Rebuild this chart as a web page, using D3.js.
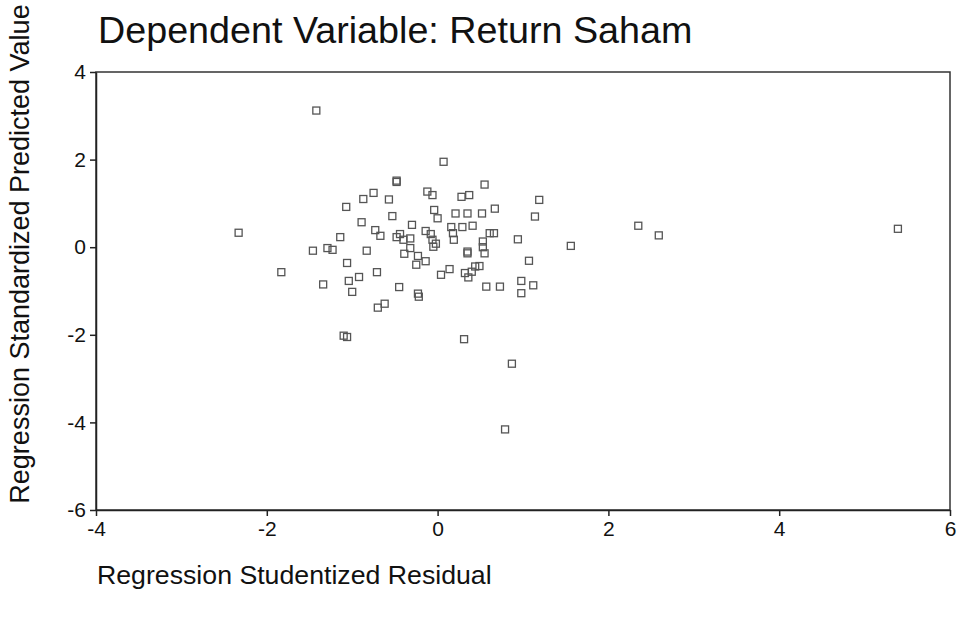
<!DOCTYPE html>
<html>
<head>
<meta charset="utf-8">
<script src="https://cdn.jsdelivr.net/npm/d3@7"></script>
<style>
  body { margin: 0; background: #fff; }
  svg { display: block; font-family: "Liberation Sans", Arial, sans-serif; }
</style>
</head>
<body>
<svg id="chart" width="958" height="617"></svg>
<script>
// Residual scatter (SPSS style)
const residuals = [
  -1.42, 0.07, -2.33, -1.83, -1.46, -1.29, -1.23, -1.34, -1.14, -1.07,
  -1.06, -1.04, -1.00, -1.10, -1.06, -0.92, -0.89, -0.87, -0.83, -0.75,
  -0.73, -0.67, -0.71, -0.70, -0.62, -0.57, -0.53, -0.48, -0.48, -0.48,
  -0.44, -0.40, -0.32, -0.32, -0.39, -0.30, -0.23, -0.14, -0.25, -0.45,
  -0.23, -0.22, -0.12, -0.06, -0.14, -0.08, -0.06, -0.05, -0.02, -0.04,
  0.00, 0.55, 0.28, 0.37, 1.19, 0.21, 0.35, 0.52, 0.67, 1.14,
  0.16, 0.29, 0.41, 0.18, 0.19, 0.61, 0.66, 0.94, 1.56, 0.35,
  0.35, 0.53, 0.53, 0.55, 0.04, 0.14, 0.32, 0.36, 0.40, 0.44,
  0.49, 1.07, 0.57, 0.73, 0.98, 0.98, 1.12, 0.31, 0.87, 0.79,
  2.35, 2.59, 5.39
];
const predicted = [
  3.12, 1.95, 0.33, -0.57, -0.08, -0.02, -0.06, -0.85, 0.23, 0.92,
  -0.36, -0.77, -1.02, -2.02, -2.05, -0.68, 0.57, 1.10, -0.08, 1.24,
  0.39, 0.26, -0.57, -1.38, -1.29, 1.09, 0.71, 1.49, 1.52, 0.23,
  0.30, 0.17, 0.20, -0.02, -0.15, 0.51, -0.20, -0.32, -0.40, -0.91,
  -1.06, -1.13, 1.27, 1.19, 0.37, 0.30, 0.17, 0.01, 0.08, 0.85,
  0.66, 1.43, 1.15, 1.19, 1.08, 0.77, 0.77, 0.77, 0.88, 0.70,
  0.46, 0.46, 0.49, 0.32, 0.17, 0.32, 0.32, 0.18, 0.03, -0.10,
  -0.14, 0.13, 0.00, -0.14, -0.63, -0.50, -0.59, -0.69, -0.56, -0.44,
  -0.43, -0.31, -0.90, -0.90, -0.77, -1.05, -0.87, -2.10, -2.66, -4.16,
  0.49, 0.27, 0.42
];
const xTicks = [-4, -2, 0, 2, 4, 6];
const yTicks = [-6, -4, -2, 0, 2, 4];

const titleText = 'Dependent Variable: Return Saham';
const xTitle = 'Regression Studentized Residual';
const yTitle = 'Regression Standardized Predicted Value';

const svg = d3.select('#chart');
const plotLeft = 96, plotRight = 950, plotTop = 72, plotBottom = 510;

const x = d3.scaleLinear().domain([-4, 6]).range([plotLeft, plotRight]);
const y = d3.scaleLinear().domain([-6, 4]).range([plotBottom, plotTop]);

// plain hyphen for negatives, like SPSS
const fmt = (d) => String(d);

// frame
svg.append('rect')
  .attr('x', plotLeft).attr('y', plotTop)
  .attr('width', plotRight - plotLeft).attr('height', plotBottom - plotTop)
  .attr('fill', 'none').attr('stroke', '#333').attr('stroke-width', 1.5);

const xAxis = svg.append('g')
  .attr('transform', `translate(0,${plotBottom})`)
  .call(d3.axisBottom(x).tickValues(xTicks).tickFormat(fmt)
    .tickSize(6).tickSizeOuter(0).tickPadding(5));

const yAxis = svg.append('g')
  .attr('transform', `translate(${plotLeft},0)`)
  .call(d3.axisLeft(y).tickValues(yTicks).tickFormat(fmt)
    .tickSize(6).tickSizeOuter(0).tickPadding(4));

[xAxis, yAxis].forEach((g) => {
  g.select('.domain').attr('stroke', '#222').attr('stroke-width', 1.5);
  g.selectAll('.tick line').attr('stroke', '#222').attr('stroke-width', 1.5);
  g.selectAll('.tick text')
    .attr('fill', '#111')
    .style('font-size', '21px')
    .style('font-family', '"Liberation Sans", Arial, sans-serif');
});

// points
const pts = residuals.map((r, i) => ({ r, p: predicted[i] }));
const s = 7;
svg.append('g')
  .selectAll('rect')
  .data(pts)
  .join('rect')
  .attr('x', (d) => x(d.r) - s / 2)
  .attr('y', (d) => y(d.p) - s / 2)
  .attr('width', s)
  .attr('height', s)
  .attr('fill', 'none')
  .attr('stroke', '#555')
  .attr('stroke-width', 1.3);

// titles
svg.append('text')
  .attr('x', 98).attr('y', 43)
  .attr('fill', '#111')
  .style('font-size', '37.7px')
  .text(titleText);

svg.append('text')
  .attr('x', 97).attr('y', 584)
  .attr('fill', '#111')
  .style('font-size', '26.7px')
  .text(xTitle);

svg.append('text')
  .attr('transform', 'translate(29,254) rotate(-90)')
  .attr('text-anchor', 'middle')
  .attr('fill', '#111')
  .style('font-size', '27px')
  .text(yTitle);
</script>
</body>
</html>
